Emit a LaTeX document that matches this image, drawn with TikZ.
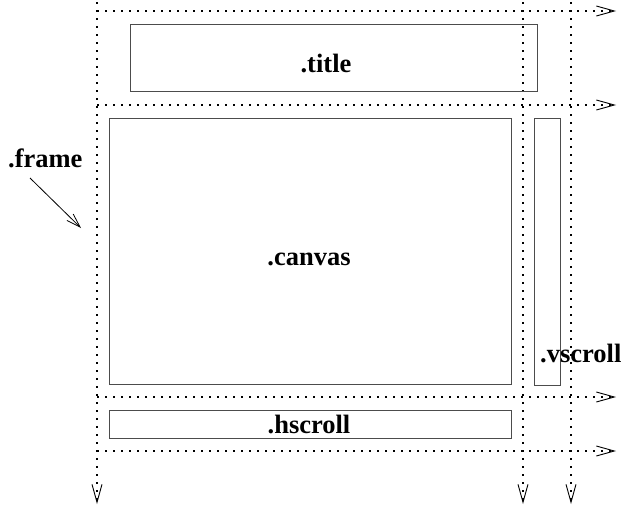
\documentclass[tikz,border=0pt]{standalone}
\usepackage{fontspec}
\setmainfont{Liberation Serif}
\usetikzlibrary{arrows.meta}
\begin{document}
\begin{tikzpicture}[x=1pt,y=-1pt,
  box/.style={draw=black!70,line width=0.9pt,inner sep=0pt,anchor=north west},
  lbl/.style={font=\fontsize{26.5}{30}\selectfont\bfseries,inner sep=0pt},
  guide/.style={line width=2pt,dash pattern=on 2pt off 6pt,
    -{Straight Barb[length=18pt,width=10pt,line width=0.9pt]}},
  pointer/.style={line width=0.8pt,-{Straight Barb[length=14pt,width=9pt,line width=0.8pt]}}]
\useasboundingbox (0,0) rectangle (625,506);
% guide coordinates
\coordinate (v1t) at (97,2);   \coordinate (v1b) at (97,504);
\coordinate (v2t) at (523,2);  \coordinate (v2b) at (523,504);
\coordinate (v3t) at (571,2);  \coordinate (v3b) at (571,504);
\coordinate (h1l) at (97,11);  \coordinate (h1r) at (616,11);
\coordinate (h2l) at (97,105); \coordinate (h2r) at (616,105);
\coordinate (h3l) at (97,397); \coordinate (h3r) at (616,397);
\coordinate (h4l) at (97,451); \coordinate (h4r) at (616,451);
\draw[guide] (v1t) -- (v1b);
\draw[guide] (v2t) -- (v2b);
\draw[guide] (v3t) -- (v3b);
\draw[guide] (h1l) -- (h1r);
\draw[guide] (h2l) -- (h2r);
\draw[guide] (h3l) -- (h3r);
\draw[guide] (h4l) -- (h4r);
% boxes
\node[box,minimum width=407pt,minimum height=67pt] (titlebox) at (130,24) {};
\node[box,minimum width=402pt,minimum height=266pt] (canvasbox) at (109,118) {};
\node[box,minimum width=26pt,minimum height=267pt] (vscrollbox) at (534,118) {};
\node[box,minimum width=402pt,minimum height=28pt] (hscrollbox) at (109,410) {};
% labels
\node[lbl,anchor=base] (title) at (326,72) {.title};
\node[lbl,anchor=base] (canvas) at (309,265) {.canvas};
\node[lbl,anchor=base] (hscroll) at (309,433) {.hscroll};
\node[lbl,anchor=base west] (vscroll) at (540,362) {.vscroll};
\node[lbl,anchor=base west] (frame) at (8,167) {.frame};
\coordinate (frametip) at (81,228);
\draw[pointer] (30,178) -- (frametip);
\end{tikzpicture}
\end{document}
